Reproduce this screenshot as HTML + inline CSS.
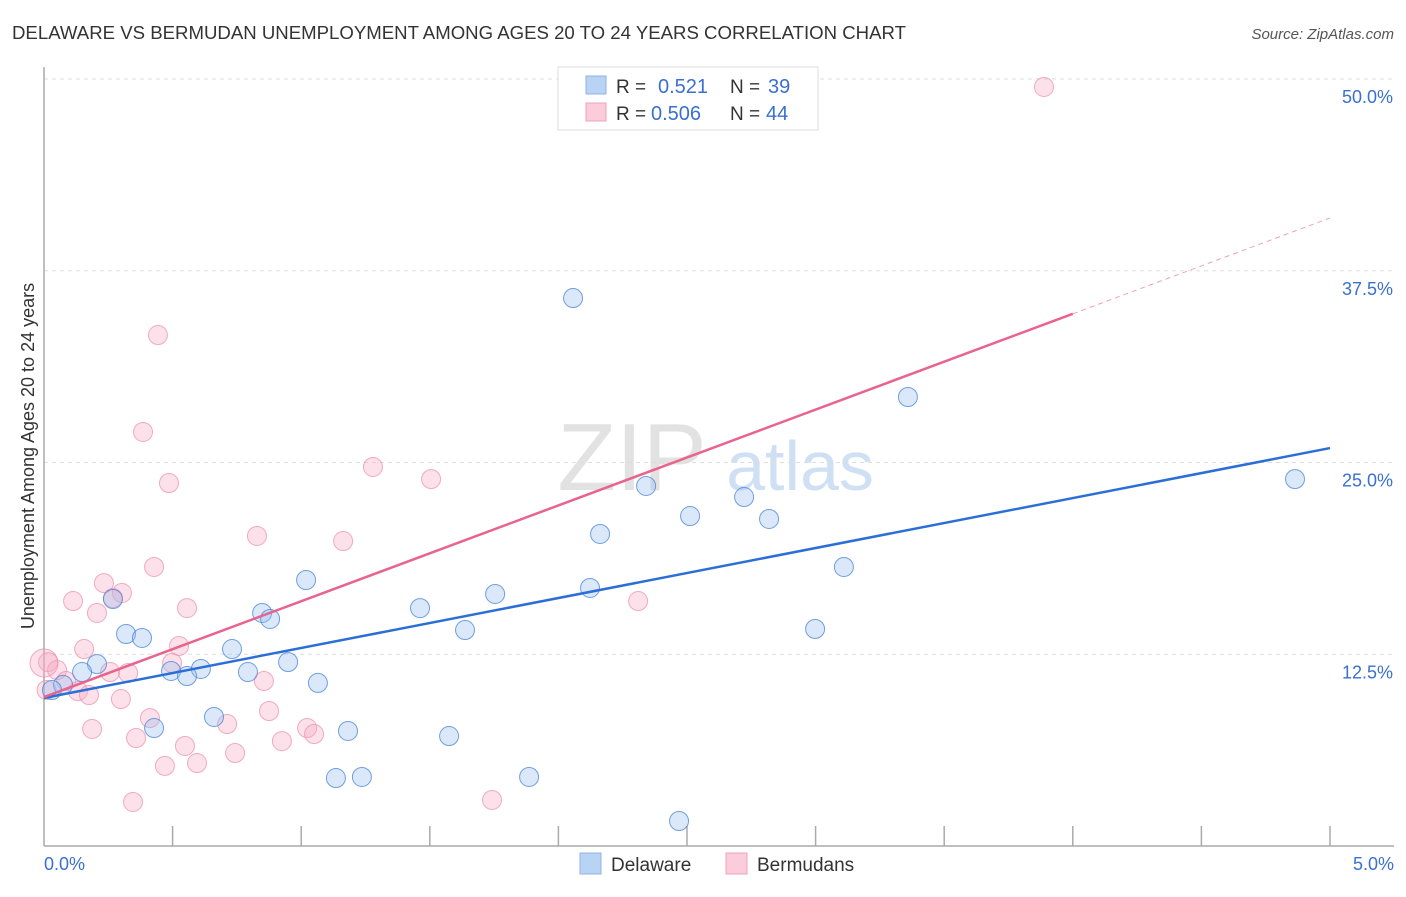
<!DOCTYPE html>
<html><head><meta charset="utf-8"><style>
body{margin:0;background:#fff;font-family:"Liberation Sans",sans-serif;}
svg text{font-family:"Liberation Sans",sans-serif;}
</style></head><body>
<svg id="chart" width="1406" height="892" xmlns="http://www.w3.org/2000/svg">
<text x="12" y="39" font-size="18" fill="#333" textLength="894" lengthAdjust="spacingAndGlyphs">DELAWARE VS BERMUDAN UNEMPLOYMENT AMONG AGES 20 TO 24 YEARS CORRELATION CHART</text>
<text x="1394" y="39" font-size="15" fill="#555" font-style="italic" text-anchor="end">Source: ZipAtlas.com</text>
<g>
<text x="632" y="490" font-size="96" fill="#e2e2e2" font-family="Liberation Serif,serif" text-anchor="middle">ZIP</text>
<text x="800" y="490" font-size="70" fill="#cfe0f4" text-anchor="middle">atlas</text>
</g>
<g id="grid"></g>
<g id="axes"></g>
<g id="pts"></g>
<g id="lines"></g>
<text transform="translate(34,456) rotate(-90)" font-size="18" fill="#333" text-anchor="middle">Unemployment Among Ages 20 to 24 years</text>
<g>
<rect x="558" y="67" width="260" height="63" fill="#fff" stroke="#ddd"/>
<rect x="586" y="76" width="20" height="18" fill="#b9d3f5" stroke="#8fb3e3"/>
<rect x="586" y="103" width="20" height="18" fill="#fbccd9" stroke="#efa3ba"/>
<text x="616" y="93" font-size="19" fill="#333">R =</text>
<text x="658" y="93" font-size="20" fill="#3a70d0">0.521</text>
<text x="730" y="93" font-size="19" fill="#333">N =</text>
<text x="768" y="93" font-size="20" fill="#3a70d0">39</text>
<text x="616" y="120" font-size="19" fill="#333">R =</text>
<text x="651" y="120" font-size="20" fill="#3a70d0">0.506</text>
<text x="730" y="120" font-size="19" fill="#333">N =</text>
<text x="766" y="120" font-size="20" fill="#3a70d0">44</text>
</g>
<g>
<rect x="580" y="853" width="21" height="21" fill="#b9d3f5" stroke="#8fb3e3"/>
<text x="611" y="871" font-size="19" fill="#333">Delaware</text>
<rect x="726" y="853" width="21" height="21" fill="#fbccd9" stroke="#efa3ba"/>
<text x="757" y="871" font-size="19" fill="#333">Bermudans</text>
</g>
</svg>
<script>
const xTicks=[0,0.5,1,1.5,2,2.5,3,3.5,4,4.5,5];
const yTicks=[12.5,25,37.5,50];
const yTickLabels=["12.5%","25.0%","37.5%","50.0%"];
const delX=[2.057,3.359,4.864,2.341,2.722,2.512,2.819,2.162,3.110,1.019,2.123,1.754,0.268,1.462,0.848,0.879,1.637,2.998,0.319,0.381,0.731,0.206,0.148,0.949,0.494,0.610,0.556,0.793,1.065,0.074,0.031,0.661,0.428,1.182,1.575,1.135,1.236,1.886,2.469];
const delY=[35.72,29.27,23.92,23.47,22.75,21.51,21.32,20.34,18.19,17.34,16.82,16.43,16.10,15.51,15.19,14.80,14.08,14.15,13.82,13.56,12.84,11.86,11.34,11.99,11.41,11.54,11.08,11.34,10.63,10.50,10.17,8.41,7.69,7.50,7.17,4.43,4.50,4.50,1.63];
const berX=[3.888,0.443,0.385,1.279,0.486,1.505,0.828,1.163,0.428,0.233,0.113,0.303,0.268,0.206,0.556,2.310,0.156,0.525,0.016,0.051,0.498,0.257,0.327,0.086,0.855,0.132,0.175,0.299,0.875,0.412,0.712,0.187,1.023,1.050,0.358,0.925,0.548,0.743,0.470,0.595,0.346,1.742,0.0,0.01];
const berY=[49.48,33.31,26.99,24.71,23.66,23.92,20.21,19.88,18.19,17.14,15.97,16.49,16.17,15.19,15.51,15.97,12.84,13.04,11.99,11.47,11.93,11.34,11.28,10.76,10.76,10.10,9.84,9.58,8.80,8.34,7.95,7.63,7.69,7.30,7.04,6.84,6.52,6.06,5.22,5.41,2.87,3.00,11.93,10.17];
const delTrend=[9.65,25.94];
const berTrend=[9.71,40.94];
const berSolidEnd=4.0;
const NS="http://www.w3.org/2000/svg";
const X=v=>44+v/5*1286, Y=v=>846-v/50*767;
function mk(t,a,p){const e=document.createElementNS(NS,t);for(const k in a)e.setAttribute(k,a[k]);p.appendChild(e);return e;}
const grid=document.getElementById('grid'),axes=document.getElementById('axes'),pts=document.getElementById('pts'),lines=document.getElementById('lines');
yTicks.forEach((t,i)=>{
 const g=mk('line',{x1:44,x2:1394,y1:Y(t),y2:Y(t),stroke:'#ddd','stroke-dasharray':'4,4'},grid);
 
 
 const l=mk('text',{x:1393,y:Y(t)+24,'font-size':18,fill:'#3a70d0','text-anchor':'end'},grid);
 l.textContent=yTickLabels[i];
 
 
});
const ya=mk('line',{x1:44,x2:44,y1:67,y2:846,stroke:'#aaa','stroke-width':1.5},axes);


const xa=mk('line',{x1:44,x2:1394,y1:846,y2:846,stroke:'#aaa','stroke-width':1.5},axes);


xTicks.forEach(t=>{if(t===0)return;const k=mk('line',{x1:X(t),x2:X(t),y1:826,y2:846,stroke:'#aaa','stroke-width':1.5},axes);
 
 });
const x0=mk('text',{x:44,y:870,'font-size':18,fill:'#3a70d0'},axes);x0.textContent='0.0%';


const x1=mk('text',{x:1394,y:870,'font-size':18,fill:'#3a70d0','text-anchor':'end'},axes);x1.textContent='5.0%';


berX.forEach((v,i)=>{const c=mk('circle',{cx:X(v),cy:Y(berY[i]),r:i===42?14:9.5,fill:'rgba(246,170,195,0.35)',stroke:'rgba(235,140,170,0.7)','stroke-width':1},pts);
 
 });
delX.forEach((v,i)=>{const c=mk('circle',{cx:X(v),cy:Y(delY[i]),r:9.5,fill:'rgba(150,190,240,0.35)',stroke:'rgba(70,130,215,0.75)','stroke-width':1},pts);
 
 });
const bt=v=>berTrend[0]+(berTrend[1]-berTrend[0])*v/5;
const l1=mk('line',{x1:X(0),y1:Y(delTrend[0]),x2:X(5),y2:Y(delTrend[1]),stroke:'#2b6fd6','stroke-width':2.5},lines);


const l2=mk('line',{x1:X(0),y1:Y(bt(0)),x2:X(berSolidEnd),y2:Y(bt(berSolidEnd)),stroke:'#e8648f','stroke-width':2.5},lines);


const l3=mk('line',{x1:X(berSolidEnd),y1:Y(bt(berSolidEnd)),x2:X(5),y2:Y(bt(5)),stroke:'#f0a0b8','stroke-width':1,'stroke-dasharray':'5,4'},lines);


</script>
</body></html>
